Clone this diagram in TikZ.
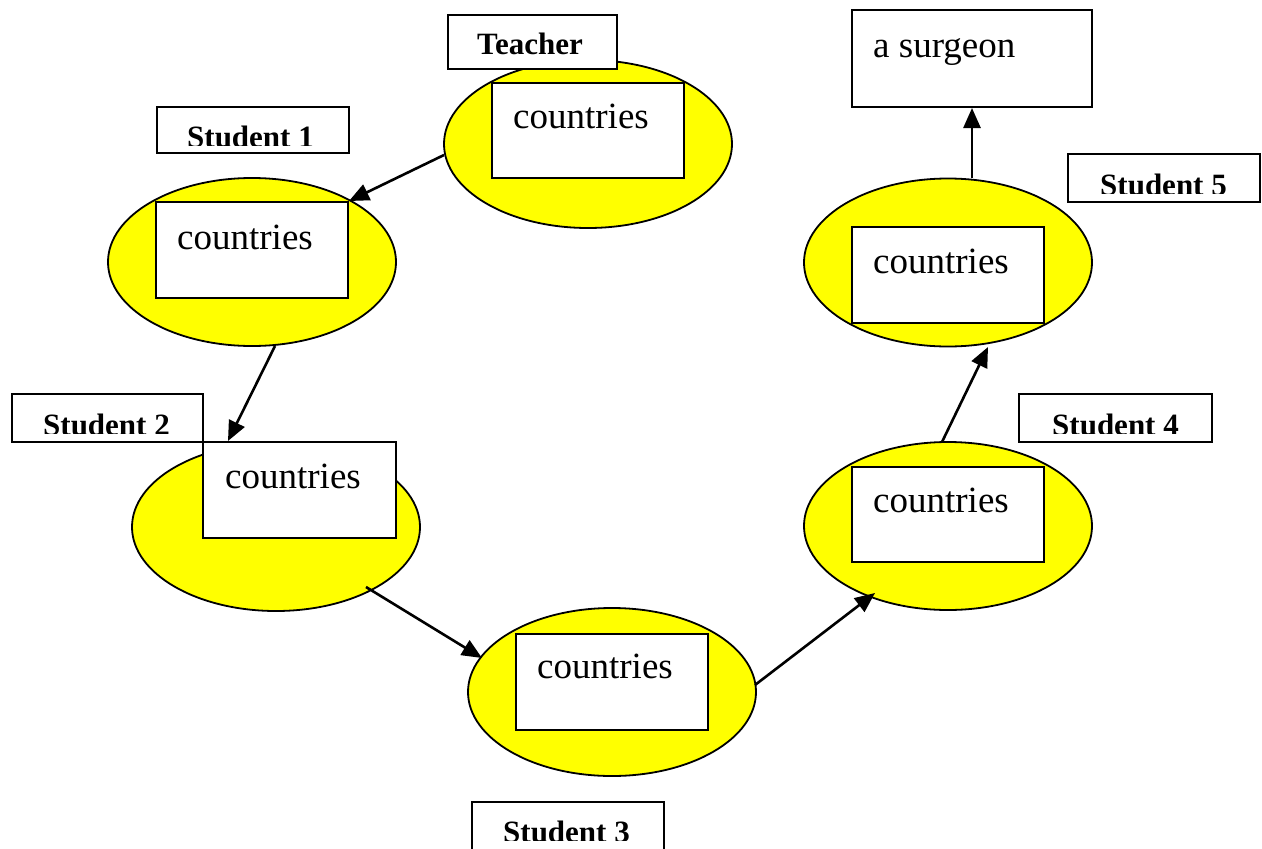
\documentclass[tikz,border=0pt]{standalone}
\usepackage{fontspec}
\setmainfont{Liberation Serif}
\usetikzlibrary{shapes.geometric,arrows.meta}
\definecolor{discyellow}{RGB}{255,255,0}
\begin{document}
\begin{tikzpicture}[x=1pt,y=-1pt,
  disc/.style={ellipse,draw,line width=1.8pt,fill=discyellow,minimum width=288pt,minimum height=168pt,inner sep=0pt},
  card/.style={rectangle,draw,line width=2pt,fill=white,inner sep=0pt},
  word/.style={anchor=base west,inner sep=0pt,font=\fontsize{37}{44}\selectfont},
  tag/.style={anchor=base west,inner sep=0pt,font=\fontsize{31}{37}\selectfont\bfseries},
  link/.style={line width=2.6pt,-{Triangle[length=20pt,width=17pt]}}]
\useasboundingbox[fill=white] (0,0) rectangle (1262,849);

% yellow discs, one per person
\node[disc] (t)  at (588,144) {};
\node[disc] (s1) at (252,262) {};
\node[disc] (s2) at (276,527) {};
\node[disc] (s3) at (612,692) {};
\node[disc] (s4) at (948,526) {};
\node[disc] (s5) at (948,262.5) {};

% white cards inside the discs
\node[card,minimum width=192pt,minimum height=95pt] (tbox)  at (588,130.5) {};
\node[card,minimum width=192pt,minimum height=96pt] (s1box) at (252,250) {};
\node[card,minimum width=193pt,minimum height=96pt] (s2box) at (299.5,490) {};
\node[card,minimum width=192pt,minimum height=96pt] (s3box) at (612,682) {};
\node[card,minimum width=192pt,minimum height=95pt] (s4box) at (948,514.5) {};
\node[card,minimum width=192pt,minimum height=96pt] (s5box) at (948,275) {};
\node[card,minimum width=240pt,minimum height=97pt] (surg)  at (972,58.5) {};

\node[word] (tw)  at (513,128) {countries};
\node[word] (w1)  at (177,249) {countries};
\node[word] (w2)  at (225,488) {countries};
\node[word] (w3)  at (537,678) {countries};
\node[word] (w4)  at (873,512) {countries};
\node[word] (w5)  at (873,273) {countries};
\node[word] (sw)  at (873,57) {a surgeon};

% name tags
\node[card,minimum width=169pt,minimum height=54pt] (tlab) at (532.5,42) {};
\node[tag] (tt) at (477,54) {Teacher};

\node[card,minimum width=192pt,minimum height=46pt] (l1) at (253,130) {};
\node[card,minimum width=191pt,minimum height=48pt] (l2) at (107.5,418) {};
\node[card,minimum width=192pt,minimum height=50pt] (l3) at (568,827) {};
\node[card,minimum width=193pt,minimum height=48pt] (l4) at (1115.5,418) {};
\node[card,minimum width=192pt,minimum height=48pt] (l5) at (1164,178) {};

% the tag texts sit low in their boxes and are cut off just above the baseline
\begin{scope}
  \clip (157,107) rectangle (349,145.5);
  \node[tag] (t1) at (187,147.3) {Student 1};
\end{scope}
\begin{scope}
  \clip (12,394) rectangle (203,433.5);
  \node[tag] (t2) at (43,435.3) {Student 2};
\end{scope}
\begin{scope}
  \clip (472,802) rectangle (664,840.5);
  \node[tag] (t3) at (503,842.3) {Student 3};
\end{scope}
\begin{scope}
  \clip (1019,394) rectangle (1212,433.5);
  \node[tag] (t4) at (1052,435.3) {Student 4};
\end{scope}
\begin{scope}
  \clip (1068,154) rectangle (1260,193.5);
  \node[tag] (t5) at (1100,195.3) {Student 5};
\end{scope}

% arrow end points on the discs
\coordinate (a1) at (444,155);
\coordinate (a2) at (275,346);
\coordinate (b2) at (228,441);
\coordinate (a3) at (366,587);
\coordinate (b3) at (482,658);
\coordinate (a4) at (755,685);
\coordinate (b4) at (875,593);
\coordinate (a5) at (942,442);
\coordinate (b5) at (988,347);

\draw[link] (a1) -- (s1box.north east);
\draw[link] (a2) -- (b2);
\draw[link] (a3) -- (b3);
\draw[link] (a4) -- (b4);
\draw[link] (a5) -- (b5);
\draw[link] (surg.south |- s5.north) -- (surg.south);
\end{tikzpicture}
\end{document}
